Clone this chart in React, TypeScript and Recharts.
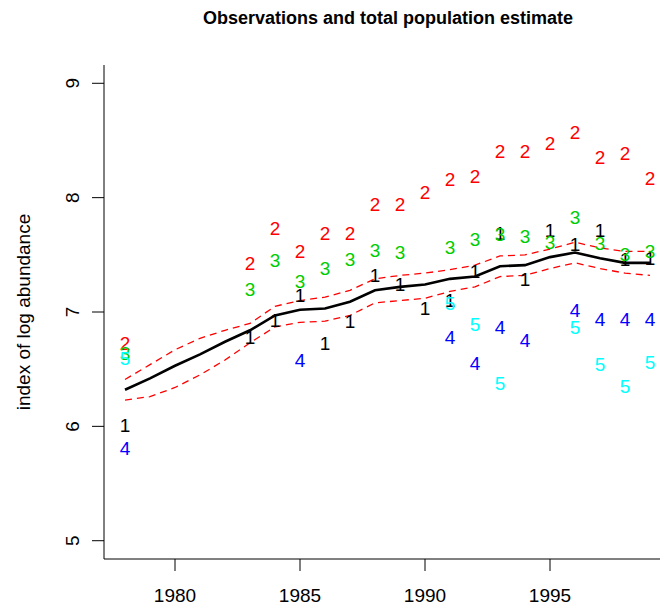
import React from "react";
import { ComposedChart, Line, Scatter, XAxis, YAxis } from "recharts";

// total population estimate with its band
const years = [1978, 1979, 1980, 1981, 1982, 1983, 1984, 1985, 1986, 1987, 1988, 1989, 1990, 1991, 1992, 1993, 1994, 1995, 1996, 1997, 1998, 1999];
const estimate = [6.32, 6.42, 6.53, 6.63, 6.74, 6.84, 6.97, 7.02, 7.03, 7.09, 7.19, 7.22, 7.24, 7.29, 7.31, 7.4, 7.41, 7.48, 7.52, 7.47, 7.43, 7.43];
const upper = [6.41, 6.54, 6.67, 6.77, 6.84, 6.9, 7.05, 7.1, 7.13, 7.19, 7.29, 7.32, 7.34, 7.37, 7.41, 7.49, 7.5, 7.55, 7.61, 7.56, 7.53, 7.53];
const lower = [6.23, 6.26, 6.34, 6.45, 6.58, 6.73, 6.87, 6.91, 6.92, 6.97, 7.08, 7.1, 7.12, 7.18, 7.22, 7.31, 7.32, 7.38, 7.43, 7.38, 7.34, 7.32];

// observations per survey: [year, value]
const obs1 = [[1978, 6.01], [1983, 6.78], [1984, 6.93], [1985, 7.15], [1986, 6.73], [1987, 6.92], [1988, 7.32], [1989, 7.24], [1990, 7.03], [1991, 7.1], [1992, 7.36], [1993, 7.69], [1994, 7.29], [1995, 7.72], [1996, 7.59], [1997, 7.72], [1998, 7.46], [1999, 7.47]];
const obs2 = [[1978, 6.73], [1983, 7.43], [1984, 7.73], [1985, 7.53], [1986, 7.69], [1987, 7.69], [1988, 7.94], [1989, 7.94], [1990, 8.05], [1991, 8.16], [1992, 8.19], [1993, 8.41], [1994, 8.41], [1995, 8.48], [1996, 8.57], [1997, 8.35], [1998, 8.39], [1999, 8.17]];
const obs3 = [[1978, 6.64], [1983, 7.2], [1984, 7.45], [1985, 7.27], [1986, 7.38], [1987, 7.46], [1988, 7.54], [1989, 7.52], [1991, 7.57], [1992, 7.64], [1993, 7.68], [1994, 7.66], [1995, 7.61], [1996, 7.83], [1997, 7.6], [1998, 7.51], [1999, 7.53]];
const obs4 = [[1978, 5.81], [1985, 6.58], [1991, 6.78], [1992, 6.55], [1993, 6.87], [1994, 6.75], [1996, 7.02], [1997, 6.94], [1998, 6.94], [1999, 6.94]];
const obs5 = [[1978, 6.6], [1991, 7.08], [1992, 6.89], [1993, 6.38], [1996, 6.87], [1997, 6.54], [1998, 6.35], [1999, 6.56]];

const xTicks = [1980, 1985, 1990, 1995];
const yTicks = [5, 6, 7, 8, 9];

const font = '"Liberation Sans", Arial, Helvetica, sans-serif';

const lineData = years.map((year, i) => ({ year, est: estimate[i], hi: upper[i], lo: lower[i] }));

const series = [
  { label: "1", color: "#000000", points: obs1 },
  { label: "2", color: "#ff0000", points: obs2 },
  { label: "3", color: "#00cd00", points: obs3 },
  { label: "4", color: "#0000ff", points: obs4 },
  { label: "5", color: "#00ffff", points: obs5 },
].map((s) => ({ ...s, data: s.points.map(([year, v]) => ({ year, v })) }));

const XTick = ({ x, y, payload }: any) => (
  <text x={x} y={y + 31} textAnchor="middle" fontSize={19} fontFamily={font} fill="#000">
    {payload.value}
  </text>
);

const YTick = ({ x, y, payload }: any) => {
  const tx = x - 20;
  return (
    <text x={tx} y={y} dy="0.36em" textAnchor="middle" transform={`rotate(-90, ${tx}, ${y})`} fontSize={19} fontFamily={font} fill="#000">
      {payload.value}
    </text>
  );
};

export default function App() {
  return (
    <div style={{ position: "absolute", left: 0, top: 0, width: 660, height: 609, overflow: "hidden", background: "#fff" }}>
      <ComposedChart width={700} height={609} data={lineData} margin={{ top: 65, right: 29, left: 0, bottom: 0 }}>
        <XAxis
          dataKey="year"
          type="number"
          domain={[1977.16, 1999.84]}
          ticks={xTicks}
          allowDataOverflow
          height={50}
          tickSize={12}
          tickMargin={0}
          stroke="#000"
          tick={<XTick />}
        />
        <YAxis
          type="number"
          domain={[4.84, 9.16]}
          ticks={yTicks}
          allowDataOverflow
          width={104}
          tickSize={12}
          tickMargin={0}
          stroke="#000"
          tick={<YTick />}
        />
        <Line type="linear" dataKey="hi" stroke="#ff0000" strokeWidth={1.3} strokeDasharray="7 5" dot={false} isAnimationActive={false} />
        <Line type="linear" dataKey="lo" stroke="#ff0000" strokeWidth={1.3} strokeDasharray="7 5" dot={false} isAnimationActive={false} />
        <Line type="linear" dataKey="est" stroke="#000" strokeWidth={2.6} dot={false} isAnimationActive={false} />
        {series.map((s) => (
          <Scatter
            key={s.label}
            data={s.data}
            dataKey="v"
            isAnimationActive={false}
            shape={(p: any) => (
              <text x={p.cx} y={p.cy} dy="0.36em" textAnchor="middle" fontSize={19} fontFamily={font} fill={s.color}>
                {s.label}
              </text>
            )}
          />
        ))}
      </ComposedChart>
      <svg width={660} height={609} style={{ position: "absolute", left: 0, top: 0, pointerEvents: "none" }}>
        <text x={388} y={24} textAnchor="middle" fontSize={18} fontWeight="bold" fontFamily={font} fill="#000">
          Observations and total population estimate
        </text>
        <text x={23} y={312} dy="0.36em" textAnchor="middle" transform="rotate(-90, 23, 312)" fontSize={19} fontFamily={font} fill="#000">
          index of log abundance
        </text>
      </svg>
    </div>
  );
}
